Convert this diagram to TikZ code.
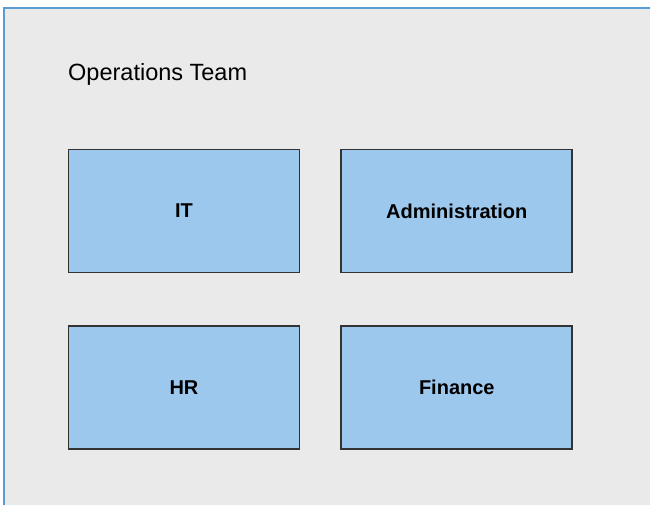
\documentclass[tikz,border=0pt]{standalone}
\usepackage{fontspec}
\setmainfont{Liberation Sans}
\usetikzlibrary{positioning}
\definecolor{panelgray}{HTML}{EAEAEA}
\definecolor{panelblue}{HTML}{5B9BD5}
\definecolor{boxblue}{HTML}{9DC8EE}
\definecolor{boxline}{HTML}{333333}
\tikzset{x=1pt,y=-1pt,node distance=41pt and 53pt}
\tikzset{unit/.style={draw=boxline,fill=boxblue,line width=1.8pt,minimum width=231pt,minimum height=123pt,inner sep=0pt,font=\fontsize{20}{24}\selectfont\bfseries}}

\begin{document}
\begin{tikzpicture}
    \useasboundingbox (0,0) rectangle (650,504);
    \fill[white] (0,0) rectangle (650,504);
    \draw[panelblue,fill=panelgray,line width=1.8pt] (4,8) rectangle (660,514);
    \node[anchor=base west,inner sep=0pt,font=\fontsize{23.5}{28}\selectfont] (title) at (68,80) {Operations Team};
    \node[unit] (it) at (184,211) {IT};
    \node[unit] (adm) [right=40pt of it] {Administration};
    \node[unit] (hr) [below=52pt of it] {HR};
    \node[unit] (fin) [below=52pt of adm] {Finance};
\end{tikzpicture}
\end{document}
